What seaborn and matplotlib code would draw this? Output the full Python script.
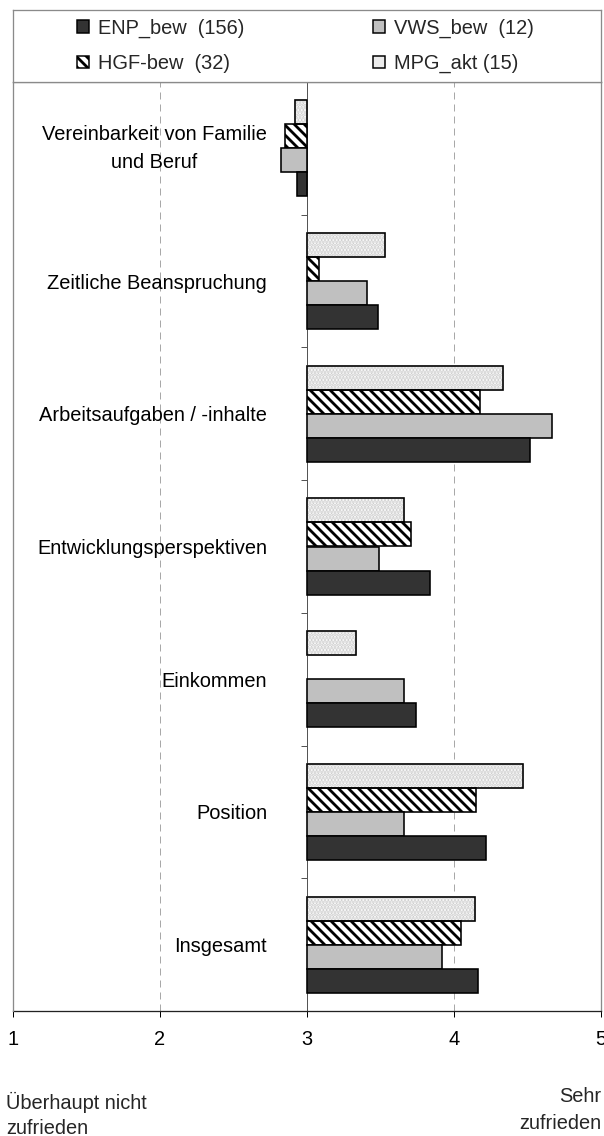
import numpy as np
import pandas as pd
import matplotlib
matplotlib.use("Agg")
import matplotlib.pyplot as plt
from matplotlib.patches import Patch, Rectangle
import seaborn as sns

# --- data -------------------------------------------------------------
categories = [
    "Vereinbarkeit von Familie\nund Beruf",
    "Zeitliche Beanspruchung",
    "Arbeitsaufgaben / -inhalte",
    "Entwicklungsperspektiven",
    "Einkommen",
    "Position",
    "Insgesamt",
]
enp_bew = [2.93, 3.48, 4.52, 3.84, 3.74, 4.22, 4.16]
vws_bew = [2.82, 3.41, 4.67, 3.49, 3.66, 3.66, 3.92]
hgf_bew = [2.85, 3.08, 4.18, 3.71, np.nan, 4.15, 4.05]
mpg_akt = [2.92, 3.53, 4.33, 3.66, 3.33, 4.47, 4.14]

series_labels = {
    "ENP": "ENP_bew  (156)",
    "VWS": "VWS_bew  (12)",
    "HGF": "HGF-bew  (32)",
    "MPG": "MPG_akt (15)",
}
x_ticks = [1, 2, 3, 4, 5]
scale_mid = 3.0
low_label = "Überhaupt nicht\nzufrieden"
high_label = "Sehr\nzufrieden"

# --- sizes in pixels, converted to points ------------------------------
DPI = 60
W, H = 604, 1136


def pt(px):
    return px * 72.0 / DPI


FS = pt(20)

sns.set_theme(style="white")
plt.rcParams["font.family"] = ["Liberation Sans", "DejaVu Sans"]
plt.rcParams["hatch.linewidth"] = pt(2.8)
plt.rcParams["lines.scale_dashes"] = False

# --- long table ----------------------------------------------------------
values = {"MPG": mpg_akt, "HGF": hgf_bew, "VWS": vws_bew, "ENP": enp_bew}
rows = []
for key, vals in values.items():
    for cat, v in zip(categories, vals):
        rows.append({"Bereich": cat, "Gruppe": key, "Wert": v})
df = pd.DataFrame(rows).dropna()
df["Abstand"] = df["Wert"] - scale_mid

draw_order = ["MPG", "HGF", "VWS", "ENP"]
face = {"MPG": "#ffffff", "HGF": "#ffffff", "VWS": "#c0c0c0", "ENP": "#333333"}
STRIPES = "\\\\"

fig = plt.figure(figsize=(W / DPI, H / DPI), dpi=DPI)
fig.patch.set_facecolor("white")
ax = fig.add_axes([13 / W, (H - 1011) / H, 588 / W, 929 / H])

sns.barplot(
    data=df, y="Bereich", x="Abstand", hue="Gruppe",
    order=categories, hue_order=draw_order, palette=face,
    orient="h", width=0.725, errorbar=None, legend=False,
    saturation=1, left=scale_mid, edgecolor="black",
    linewidth=pt(1.6), ax=ax, zorder=3,
)

# patterned fills per group
for key, cont in zip(draw_order, ax.containers):
    for p in cont.patches:
        if key == "HGF":
            p.set_hatch(STRIPES)
        elif key == "MPG":
            p.set_hatch("...")
            p.set_edgecolor("#cfcfcf")
            ax.add_patch(Rectangle(p.get_xy(), p.get_width(), p.get_height(),
                                   fill=False, edgecolor="black",
                                   linewidth=pt(1.6), zorder=4))

# --- axes styling ------------------------------------------------------
ax.set_xlim(x_ticks[0], x_ticks[-1])
ax.set_ylim(len(categories) - 0.5, -0.5)
ax.set_xticks(x_ticks)
ax.set_xticklabels([str(t) for t in x_ticks])
ax.set_yticks(range(len(categories)))
ax.set_yticklabels(categories)
ax.set_yticks(np.arange(0.5, len(categories) - 0.5, 1.0), minor=True)
ax.set_xlabel("")
ax.set_ylabel("")

ax.tick_params(axis="y", which="major", left=True, length=0,
               pad=pt(40), labelsize=FS, labelcolor="black")
ax.tick_params(axis="y", which="minor", left=True, length=pt(6),
               width=pt(1), color="#555555", direction="out")
ax.tick_params(axis="x", which="major", bottom=True, length=pt(6),
               width=pt(1), color="black", direction="out",
               pad=pt(13), labelsize=FS, labelcolor="black")

ax.spines["left"].set_position(("data", scale_mid))
ax.spines["left"].set_color("#555555")
ax.spines["left"].set_linewidth(pt(1))
ax.spines["left"].set_zorder(2.5)
ax.spines["bottom"].set_color("#222222")
ax.spines["bottom"].set_linewidth(pt(1.3))
for s in ("top", "right"):
    ax.spines[s].set_color("#8a8a8a")
    ax.spines[s].set_linewidth(pt(1.3))
ax.axvline(x_ticks[0], color="#8a8a8a", linewidth=pt(1.3),
           clip_on=False, zorder=5)

ax.set_axisbelow(True)
ax.xaxis.grid(True, color="#a8a8a8", linewidth=pt(1),
              linestyle=(0, (pt(7), pt(5))))
ax.yaxis.grid(False)

# --- legend box --------------------------------------------------------
lax = fig.add_axes([13 / W, (H - 82) / H, 588 / W, 72.5 / H])
lax.set_xticks([])
lax.set_yticks([])
lax.set_facecolor("white")
for s in lax.spines.values():
    s.set_color("#8a8a8a")
    s.set_linewidth(pt(1.3))


def key_patch(key):
    if key == "HGF":
        return Patch(facecolor="white", edgecolor="black", hatch=STRIPES,
                     linewidth=pt(1.5))
    if key == "MPG":
        return Patch(facecolor="#ececec", edgecolor="black", linewidth=pt(1.5))
    return Patch(facecolor=face[key], edgecolor="black", linewidth=pt(1.5))


leg_kw = dict(loc="center left", bbox_transform=fig.transFigure,
              frameon=False, fontsize=FS, handlelength=0.6,
              handleheight=0.6, handletextpad=0.45, labelspacing=0.8,
              borderpad=0, borderaxespad=0)
for col_keys, x_px in ((["ENP", "HGF"], 77), (["VWS", "MPG"], 373)):
    fig.legend(handles=[key_patch(k) for k in col_keys],
               labels=[series_labels[k] for k in col_keys],
               bbox_to_anchor=(x_px / W, 1 - 46.0 / H), **leg_kw)

# --- scale end descriptions ---------------------------------------------
fig.text(6 / W, 1 - 1115 / H, low_label, ha="left", va="center",
         fontsize=FS, linespacing=1.37, multialignment="left")
fig.text(601 / W, 1 - 1110 / H, high_label, ha="right", va="center",
         fontsize=FS, linespacing=1.5, multialignment="right")

# category labels: two-line ones centred as a block, with a wider gap
fig.canvas.draw()
for t in ax.get_yticklabels():
    t.set_multialignment("center")
    t.set_linespacing(1.63)
    if "\n" in t.get_text():
        t.set_verticalalignment("center")

fig.savefig("out.png", dpi=DPI, facecolor="white")
